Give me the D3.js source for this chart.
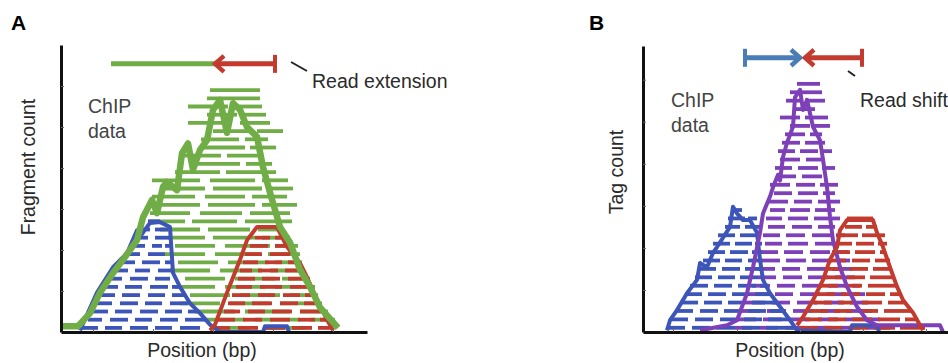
<!DOCTYPE html>
<html>
<head>
<meta charset="utf-8">
<script src="https://cdn.jsdelivr.net/npm/d3@7"></script>
<style>
  body { margin: 0; background: #fff; }
  svg { display: block; font-family: "Liberation Sans", Arial, sans-serif; }
</style>
</head>
<body>
<div id="chart"></div>
<script>
// ---- panel A: read extension (positions in bp offset, rows = fragment count) ----
const readsAGreen = [
  [[149,189],[204,244]],
  [[144,184],[194,239],[249,274]],
  [[134,174],[184,229],[239,267]],
  [[119,159],[169,209],[219,261]],
  [[129,169],[179,219],[229,257]],
  [[114,154],[164,204],[214,254]],
  [[124,164],[174,214],[221,249]],
  [[109,149],[159,201],[209,244]],
  [[117,157],[167,207],[214,241]],
  [[104,144],[154,199],[207,239]],
  [[114,154],[164,209],[214,237]],
  [[107,144],[152,194],[201,229]],
  [[99,139],[147,189],[197,222]],
  [[89,124],[131,176],[184,231]],
  [[89,129],[139,181],[189,229]],
  [[99,139],[147,194],[201,236]],
  [[91,134],[144,184],[191,226]],
  [[99,144],[152,201],[207,232]],
  [[91,139],[149,194],[201,227]],
  [[114,159],[165,215]],
  [[134,179],[185,211]],
  [[122,160],[166,201]],
  [[139,184],[189,215]],
  [[140,178],[184,207]],
  [[152,189],[196,222]],
  [[127,171],[179,209]],
  [[146,176],[181,205]],
  [[127,167],[175,201]],
  [[146,199]],
  [[149,199]]
];
const readsABlue = [
  [[21,37],[44,61],[69,87],[94,111],[119,139]],
  [[27,41],[49,67],[74,91],[99,117],[124,144]],
  [[32,47],[54,71],[79,97],[104,121],[127,137]],
  [[36,51],[59,77],[84,101],[109,127]],
  [[39,54],[61,79],[87,104],[111,124]],
  [[44,57],[64,81],[89,107],[111,119]],
  [[47,61],[69,87],[94,109]],
  [[51,67],[74,89],[97,112]],
  [[59,74],[81,99],[104,111]],
  [[64,79],[87,104]],
  [[69,84],[91,101],[104,111]],
  [[74,87],[94,109]],
  [[79,89],[94,107]],
  [[87,99]]
];
const readsARed = [
  [[151,169],[177,197],[204,224],[231,251],[257,271]],
  [[157,174],[182,201],[209,229],[237,254],[259,267]],
  [[163,179],[187,204],[211,231],[239,261]],
  [[167,184],[191,211],[219,237],[243,257]],
  [[171,189],[197,214],[222,239],[244,253]],
  [[175,191],[199,221],[229,249]],
  [[177,194],[201,219],[227,245]],
  [[179,191],[197,217],[224,241]],
  [[182,197],[204,221],[227,237]],
  [[184,201],[209,229]],
  [[189,207],[214,231]],
  [[194,209],[214,224]]
];
const profileAGreen = [
  [0,0.7],[17,0.7],[29,2.3],[39,4.8],[52,7.2],[62,8.8],[76,11.2],[82,14.0],[91,16.1],[96,14.5],
  [102,17.7],[106,18.3],[116,17.3],[121,21.8],[127,23.0],[132,19.8],[139,22.2],[146,23.4],
  [152,27.1],[159,28.3],[166,24.3],[172,27.9],[179,27.1],[186,25.0],[196,23.8],[202,20.1],
  [209,17.0],[219,12.8],[229,10.9],[239,7.6],[249,5.5],[259,3.0],[272,1.2],[277,0.5]
];
const profileABlue = [
  [19,0.2],[36,4.8],[52,7.9],[66,9.6],[76,12.4],[80,11.8],[89,13.3],[99,13.4],[109,12.8],
  [112,7.2],[119,5.5],[129,3.5],[139,2.3],[149,0.9],[159,0],[202,0],[204,0.7],[226,0.7],[228,0]
];
const profileARed = [
  [149,0.2],[154,0.9],[166,4.8],[179,8.8],[186,11.2],[196,12.8],[216,12.8],[226,10.4],
  [239,8.4],[246,6.7],[256,3.9],[266,1.5],[272,0.2]
];
const yTicksA = [5, 10, 15, 20, 25, 30];
const xTicksA = [32, 92, 152, 212, 272];
// schematic arrow: fragment start, read start (arrow head), read end (bar)
const arrowA = [50, 154, 214];

// ---- panel B: read shift (rows = tag count) ----
const readsBPurple = [
  [[92,109],[117,135],[143,162],[169,189],[197,217],[223,247]],
  [[95,113],[120,139],[147,167],[175,195],[202,237]],
  [[99,117],[124,143],[150,169],[177,197],[203,229]],
  [[103,122],[129,147],[154,174],[181,201],[207,225]],
  [[107,125],[132,150],[157,177],[183,203],[209,222]],
  [[109,127],[134,152],[159,179],[185,205],[209,217]],
  [[115,133],[140,159],[165,185],[192,212]],
  [[114,132],[139,157],[164,183],[189,209]],
  [[119,137],[143,163],[169,189],[195,207]],
  [[117,135],[141,160],[167,187],[192,205]],
  [[122,139],[145,165],[172,195]],
  [[120,137],[143,162],[169,189],[193,202]],
  [[125,142],[149,169],[175,192]],
  [[123,139],[145,165],[171,197]],
  [[127,142],[147,167],[172,192]],
  [[125,145],[151,169],[175,197]],
  [[131,149],[155,175],[180,192]],
  [[127,147],[153,172],[177,195]],
  [[135,153],[159,179]],
  [[132,149],[155,175],[179,192]],
  [[137,157],[163,179]],
  [[135,152],[157,175],[179,189]],
  [[139,157],[162,182]],
  [[142,162],[167,179]],
  [[147,167],[171,187]],
  [[137,157],[162,185]],
  [[150,172]],
  [[143,157],[162,182]],
  [[147,179]],
  [[154,177]]
];
const readsBBlue = [
  [[25,42],[49,67],[73,92],[99,117],[123,153]],
  [[27,45],[52,70],[77,95],[101,119],[125,147]],
  [[32,50],[57,75],[81,99],[105,123],[127,142]],
  [[37,55],[61,79],[85,103],[109,135]],
  [[42,59],[65,83],[89,107],[112,129]],
  [[47,65],[71,89],[95,113],[117,125]],
  [[52,69],[75,92],[97,115]],
  [[57,73],[79,97],[102,119]],
  [[60,77],[82,99],[105,117]],
  [[65,82],[87,105],[109,119]],
  [[70,87],[92,109],[112,119]],
  [[75,92],[97,115]],
  [[82,97],[102,117]],
  [[85,102],[105,114]],
  [[90,99]]
];
const readsBRed = [
  [[157,175],[181,199],[205,225],[231,252],[257,282]],
  [[162,179],[185,203],[209,229],[235,257],[262,275]],
  [[167,185],[191,209],[215,235],[241,269]],
  [[171,189],[195,213],[219,239],[245,262]],
  [[175,192],[198,217],[223,242],[247,257]],
  [[178,195],[201,219],[225,254]],
  [[181,199],[204,222],[227,250]],
  [[184,201],[207,225],[230,247]],
  [[187,203],[209,227],[232,247]],
  [[189,207],[212,232],[237,242]],
  [[193,209],[213,231],[235,244]],
  [[197,215],[219,242]],
  [[202,219],[223,234]],
  [[204,230]]
];
const profileBPurple = [
  [57,0.2],[84,0.8],[94,1.4],[104,4.6],[110,7.7],[117,11.8],[120,14.1],[127,16.1],[130,17.2],
  [135,18.7],[137,18.0],[140,20.8],[144,22.5],[150,24.4],[152,27.9],[157,28.8],[160,26.4],
  [164,27.6],[167,26.0],[170,24.4],[177,22.8],[180,20.5],[184,17.2],[187,13.7],[190,10.9],
  [197,7.7],[204,5.4],[214,3.0],[224,1.4],[234,0.8],[297,0.8],[300,0]
];
const profileBBlue = [
  [24,0.2],[27,1.4],[34,2.6],[44,4.6],[54,6.2],[57,8.2],[64,7.7],[70,9.4],[74,10.1],[87,12.5],
  [90,14.9],[94,14.1],[100,13.3],[107,13.3],[114,11.8],[117,8.6],[120,6.2],[127,4.6],
  [137,3.0],[147,1.4],[154,0.2],[207,0],[209,0.8],[234,0.8],[236,0]
];
const profileBRed = [
  [154,0.8],[160,1.8],[170,3.8],[180,6.2],[187,8.6],[194,10.1],[197,12.1],[204,13.3],
  [230,13.3],[234,11.8],[240,10.1],[247,7.7],[254,5.4],[260,3.8],[270,2.3],[277,0.8],[280,0.2]
];
const yTicksB = [5, 10, 15, 20, 25, 30];
const xTicksB = [30, 94, 157, 220, 283];
// schematic arrows: forward read start, forward head, reverse head, reverse read end
const arrowB = [102, 157, 162, 219];

const GREEN = "#70ad47", BLUE = "#3d55b8", RED = "#c23b2e", PURPLE = "#7d40b8", STEEL = "#4a7db5";
const TEXT = "#2a2a2a", FS = 19.5;

const width = 948, height = 363;
const svg = d3.select("#chart").append("svg")
  .attr("width", width)
  .attr("height", height);

function panel(opts) {
  const x = d3.scaleLinear().domain([0, opts.xMax]).range([opts.left, opts.left + opts.xMax]);
  const y = d3.scaleLinear().domain([0, opts.yMax]).range([332, opts.top]);
  const g = svg.append("g");

  // read segments, one row per count level
  opts.reads.forEach(([rows, color]) => {
    rows.forEach((row, i) => {
      g.selectAll(null)
        .data(row)
        .enter().append("line")
        .attr("x1", d => x(d[0]))
        .attr("x2", d => x(d[1]))
        .attr("y1", y(i + 0.5))
        .attr("y2", y(i + 0.5))
        .attr("stroke", color)
        .attr("stroke-width", 3.8);
    });
  });

  const line = d3.line().x(d => x(d[0])).y(d => y(d[1]));
  opts.profiles.forEach(([pts, color, w]) => {
    g.append("path")
      .attr("d", line(pts))
      .attr("fill", "none")
      .attr("stroke", color)
      .attr("stroke-width", w)
      .attr("stroke-linejoin", "round");
  });

  const yAxis = g.append("g")
    .attr("transform", `translate(${opts.left},0)`)
    .call(d3.axisLeft(y).tickValues(opts.yTicks).tickSizeInner(-3).tickSizeOuter(0).tickFormat(""));
  const xAxis = g.append("g")
    .attr("transform", "translate(0,332)")
    .call(d3.axisBottom(x).tickValues(opts.xTicks).tickSizeInner(-3).tickSizeOuter(0).tickFormat(""));
  [yAxis, xAxis].forEach(a => {
    a.select(".domain").attr("stroke", "#111").attr("stroke-width", 3);
    a.selectAll(".tick line").attr("stroke", "#666").attr("stroke-width", 1);
  });

  g.append("text")
    .attr("transform", `translate(${opts.yLabelX},${opts.yLabelY}) rotate(-90)`)
    .attr("text-anchor", "middle")
    .attr("font-size", FS)
    .attr("fill", TEXT)
    .text(opts.yLabel);
  g.append("text")
    .attr("x", opts.xLabelX)
    .attr("y", 357)
    .attr("text-anchor", "middle")
    .attr("font-size", FS)
    .attr("fill", TEXT)
    .text("Position (bp)");

  const chip = g.append("text")
    .attr("x", opts.chipX)
    .attr("y", opts.chipY)
    .attr("font-size", FS)
    .attr("fill", "#444");
  chip.append("tspan").text("ChIP");
  chip.append("tspan").attr("x", opts.chipX).attr("dy", 25).text("data");

  svg.append("text")
    .attr("x", opts.letterX)
    .attr("y", 30)
    .attr("font-size", 21)
    .attr("font-weight", "bold")
    .text(opts.letter);

  return { x, y, g };
}

function head(g, xp, yp, dir, color) {
  g.append("path")
    .attr("d", `M${xp - dir * 9},${yp - 8} L${xp},${yp} L${xp - dir * 9},${yp + 8}`)
    .attr("fill", "none")
    .attr("stroke", color)
    .attr("stroke-width", 4.5);
}

// Panel A
const pA = panel({
  left: 61, top: 45, xMax: 306, yMax: 35,
  reads: [[readsAGreen, GREEN], [readsABlue, BLUE], [readsARed, RED]],
  profiles: [[profileABlue, BLUE, 4], [profileARed, RED, 4], [profileAGreen, GREEN, 6.5]],
  yTicks: yTicksA, xTicks: xTicksA,
  yLabel: "Fragment count", yLabelX: 35, yLabelY: 167, xLabelX: 202,
  chipX: 88, chipY: 113, letter: "A", letterX: 11
});
{
  const { x, y, g } = pA;
  const ya = y(32.7);
  g.append("line").attr("x1", x(arrowA[0])).attr("x2", x(arrowA[1])).attr("y1", ya).attr("y2", ya)
    .attr("stroke", GREEN).attr("stroke-width", 5);
  g.append("line").attr("x1", x(arrowA[1]) + 2).attr("x2", x(arrowA[2])).attr("y1", ya).attr("y2", ya)
    .attr("stroke", RED).attr("stroke-width", 5);
  head(g, x(arrowA[1]), ya, -1, RED);
  g.append("line").attr("x1", x(arrowA[2])).attr("x2", x(arrowA[2])).attr("y1", ya - 9).attr("y2", ya + 9)
    .attr("stroke", RED).attr("stroke-width", 4);
  g.append("line").attr("x1", 291).attr("y1", 62).attr("x2", 307).attr("y2", 71)
    .attr("stroke", "#222").attr("stroke-width", 2);
  g.append("text").attr("x", 312).attr("y", 88).attr("font-size", FS).attr("fill", TEXT)
    .text("Read extension");
}

// Panel B
const pB = panel({
  left: 643, top: 46, xMax: 310, yMax: 34,
  reads: [[readsBPurple, PURPLE], [readsBBlue, BLUE], [readsBRed, RED]],
  profiles: [[profileBBlue, BLUE, 4], [profileBPurple, PURPLE, 4], [profileBRed, RED, 4]],
  yTicks: yTicksB, xTicks: xTicksB,
  yLabel: "Tag count", yLabelX: 623, yLabelY: 172, xLabelX: 790,
  chipX: 671, chipY: 107, letter: "B", letterX: 589
});
{
  const { x, y, g } = pB;
  const ya = y(32.6);
  g.append("line").attr("x1", x(arrowB[0])).attr("x2", x(arrowB[1]) - 2).attr("y1", ya).attr("y2", ya)
    .attr("stroke", STEEL).attr("stroke-width", 5);
  g.append("line").attr("x1", x(arrowB[0])).attr("x2", x(arrowB[0])).attr("y1", ya - 9).attr("y2", ya + 9)
    .attr("stroke", STEEL).attr("stroke-width", 4);
  head(g, x(arrowB[1]), ya, 1, STEEL);
  g.append("line").attr("x1", x(arrowB[2]) + 2).attr("x2", x(arrowB[3])).attr("y1", ya).attr("y2", ya)
    .attr("stroke", RED).attr("stroke-width", 5);
  head(g, x(arrowB[2]), ya, -1, RED);
  g.append("line").attr("x1", x(arrowB[3])).attr("x2", x(arrowB[3])).attr("y1", ya - 9).attr("y2", ya + 9)
    .attr("stroke", RED).attr("stroke-width", 4);
  g.append("line").attr("x1", 848).attr("y1", 71).attr("x2", 855).attr("y2", 76)
    .attr("stroke", "#222").attr("stroke-width", 2);
  g.append("text").attr("x", 860).attr("y", 107).attr("font-size", FS).attr("fill", TEXT)
    .text("Read shift");
}
</script>
</body>
</html>
